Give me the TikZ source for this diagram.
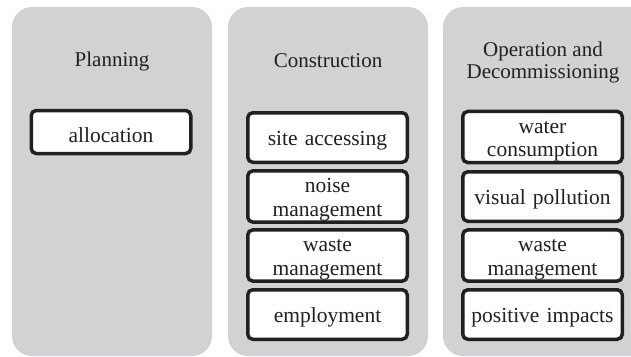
\documentclass[tikz,border=0pt]{standalone}
\usepackage{fontspec}
\setmainfont{Liberation Serif}
\usepackage{tikz}
\usetikzlibrary{positioning}
\definecolor{panelgray}{HTML}{D1D2D4}
\definecolor{inkdark}{HTML}{231F20}
\tikzset{
  phasebg/.style={fill=panelgray, rounded corners=20pt},
  phasetitle/.style={text=inkdark, align=center, font=\fontsize{21}{22}\selectfont},
  impact/.style={draw=inkdark, line width=3.5pt, rounded corners=5pt, fill=white,
    text=inkdark, align=center, text width=157.5pt, minimum height=49.5pt,
    inner sep=1pt, font=\fontsize{21.5}{23.5}\selectfont,
    execute at begin node=\rule{0pt}{21pt}},
}

\begin{document}
\begin{tikzpicture}[x=1pt,y=-1pt]
        \useasboundingbox (0,0) rectangle (631,356);
        \begin{scope}
        \clip (0,0) rectangle (631,356);
        \fill[phasebg] (12,7) rectangle (212,356);
        \fill[phasebg] (228,7) rectangle (428,356);
        \fill[phasebg] (443,7) rectangle (663,356);
        \end{scope}
        % phase titles
        \node[phasetitle] (tplan) at (112,61) {Planning};
        \node[phasetitle] (tcons) at (328,61) {Construction};
        \node[phasetitle] (toper) at (543,62) {Operation and\\Decommissioning};
        % planning
        \node[impact, minimum height=43pt] (alloc) at (111,132) {allocation};
        % construction
        \node[impact] (site) at (327.5,137.5) {site accessing};
        \node[impact] (noise) at (327.5,196.5) {noise\\management};
        \node[impact] (cwaste) at (327.5,255.5) {waste\\management};
        \node[impact] (employ) at (327.5,314.5) {employment};
        % operation and decommissioning
        \node[impact] (water) at (542.5,137) {water\\consumption};
        \node[impact] (visual) at (542.5,196.5) {visual pollution};
        \node[impact] (owaste) at (542.5,255.5) {waste\\management};
        \node[impact] (posit) at (542.5,314.5) {positive impacts};
    \end{tikzpicture}
\end{document}
